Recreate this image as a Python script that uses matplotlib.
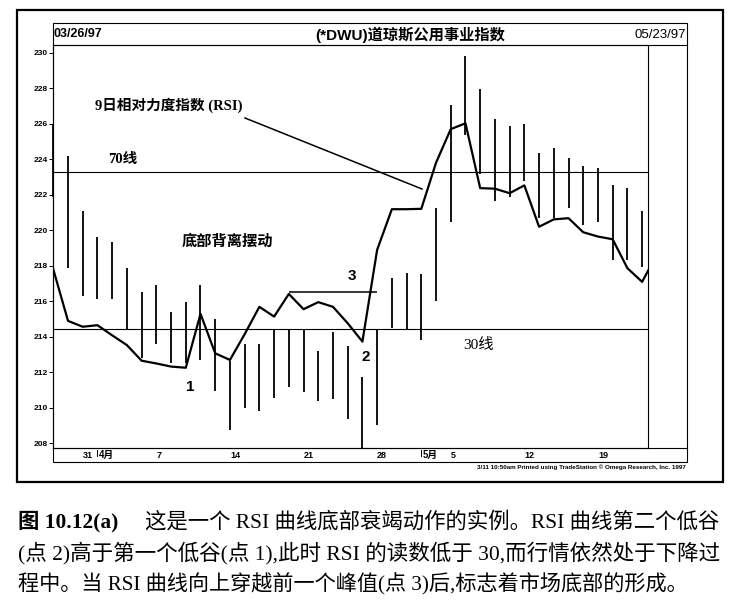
import matplotlib
matplotlib.use("Agg")
import matplotlib.pyplot as plt
import matplotlib.patches as patches

# Jours de cotation (03/26/97 - 05/23/97)
trade_days = ["3/26", "3/27", "3/31", "4/1", "4/2", "4/3", "4/4",
              "4/7", "4/8", "4/9", "4/10", "4/11",
              "4/14", "4/15", "4/16", "4/17", "4/18",
              "4/21", "4/22", "4/23", "4/24", "4/25",
              "4/28", "4/29", "4/30", "5/1", "5/2",
              "5/5", "5/6", "5/7", "5/8", "5/9",
              "5/12", "5/13", "5/14", "5/15", "5/16",
              "5/19", "5/20", "5/21", "5/22", "5/23"]

highs = [226.0, 224.2, 221.1, 219.6, 219.35, 217.85, 216.5,
         216.9, 215.4, 215.95, 216.9, 215.0,
         212.65, 213.6, 213.6, 214.4, 214.4,
         214.4, 213.2, 214.25, 213.5, 211.7,
         214.4, 217.3, 217.6, 217.55, 221.25,
         227.05, 229.85, 227.95, 226.3, 225.9,
         226.0, 224.35, 224.65, 224.05, 223.6,
         223.5, 222.55, 222.4, 221.1]
lows = [221.9, 217.9, 216.3, 216.1, 216.1, 214.45, 212.8,
        213.6, 212.5, 212.5, 212.7, 210.95,
        208.75, 209.95, 209.8, 210.55, 211.15,
        210.9, 210.35, 210.5, 209.35, 207.7,
        209.0, 214.5, 214.45, 213.8, 216.0,
        220.45, 225.4, 223.2, 221.65, 221.9,
        222.8, 220.7, 220.7, 221.25, 220.3,
        220.45, 218.35, 218.3, 217.95]

# RSI 9 jours
rsi = [45.2, 32.0, 30.5, 30.9, 28.3, 25.8, 21.8,
       21.1, 20.3, 20.0, 33.8, 23.7,
       22.0, 28.6, 35.6, 33.1, 38.9,
       35.0, 36.8, 35.6, 31.4, 26.7,
       50.2, 60.6, 60.6, 60.7, 72.5,
       81.1, 82.6, 66.0, 65.85, 64.7,
       66.7, 56.1, 58.0, 58.3, 54.7,
       53.6, 52.9, 45.5, 42.0, 49.0]

rsi_upper = 70
rsi_lower = 30
peak3_level = 39.5
peak3_span = ("4/18", "4/28")

price_ticks = list(range(208, 231, 2))
day_ticks = ["3/31", "4/7", "4/14", "4/21", "4/28", "5/5", "5/12", "5/19"]
day_labels = ["31", "7", "14", "21", "28", "5", "12", "19"]
month_ticks = ["4/1", "5/1"]
month_labels = ["4月", "5月"]

title = "(*DWU)道琼斯公用事业指数"
caption_head = "图 10.12(a)"
caption = ["这是一个 RSI 曲线底部衰竭动作的实例。RSI 曲线第二个低谷",
           "(点 2)高于第一个低谷(点 1),此时 RSI 的读数低于 30,而行情依然处于下降过",
           "程中。当 RSI 曲线向上穿越前一个峰值(点 3)后,标志着市场底部的形成。"]

W, H = 744, 603
SANS = ["Liberation Sans", "Noto Sans CJK SC"]
SERIF = ["Liberation Serif", "Noto Sans CJK SC"]

fig = plt.figure(figsize=(W / 100, H / 100), dpi=100)
fig.patch.set_facecolor("white")


def frac(x0, y0, x1, y1):
    return [x0 / W, 1 - y1 / H, (x1 - x0) / W, (y1 - y0) / H]


# Graphique principal (prix + RSI)
ax = fig.add_axes(frac(53, 45, 648, 448))
ax.set_xlim(-0.02, 40.4)
ax.set_ylim(207.72, 230.45)
for s in ax.spines.values():
    s.set_linewidth(0.8)
ax.yaxis.tick_right()
ax.set_yticks(price_ticks)
ax.set_yticklabels([str(t) for t in price_ticks], fontsize=6,
                   fontweight="bold", family="Liberation Sans")
ax.tick_params(axis="y", length=3, width=0.7, pad=0.5)
ax.set_xticks([])

x_idx = list(range(len(highs)))
ax.vlines(x_idx, lows, highs, color="black", linewidth=1.3, zorder=3,
          clip_on=False)

ax2 = ax.twinx()
ax2.set_ylim(-0.55, 102.65)
ax2.set_yticks([])
ax2.axhline(rsi_upper, color="black", linewidth=0.8)
ax2.axhline(rsi_lower, color="black", linewidth=0.8)
ax2.plot(range(len(rsi)), rsi, color="black", linewidth=1.6)
i0 = trade_days.index(peak3_span[0])
i1 = trade_days.index(peak3_span[1])
ax2.hlines(peak3_level, i0, i1, color="black", linewidth=1.1)
for s in ax2.spines.values():
    s.set_visible(False)

# Dates en bas
xt = ax.get_xaxis_transform()
for d, lab in zip(day_ticks, day_labels):
    ax.text(trade_days.index(d), -0.018, lab, transform=xt, ha="left",
            va="center", fontsize=6.5, fontweight="bold",
            family="Liberation Sans", clip_on=False)
for d, lab in zip(month_ticks, month_labels):
    i = trade_days.index(d)
    ax.plot([i, i], [-0.005, -0.02], transform=xt, color="black",
            linewidth=0.7, clip_on=False)
    ax.text(i + 0.12, -0.018, lab, transform=xt, ha="left", va="center",
            fontsize=7, fontweight="bold", family=SANS, clip_on=False)

# Cadres et textes en pixels
ov = fig.add_axes([0, 0, 1, 1])
ov.set_xlim(0, W)
ov.set_ylim(H, 0)
ov.axis("off")
ov.patch.set_visible(False)

ov.add_patch(patches.Rectangle((17, 10), 706, 472, fill=False,
                               edgecolor="black", linewidth=1.6))
ov.add_patch(patches.Rectangle((53, 23), 634, 439, fill=False,
                               edgecolor="black", linewidth=0.8))
ov.plot([53, 687], [45, 45], color="black", linewidth=0.8)
ov.plot([53, 687], [448, 448], color="black", linewidth=0.8)

ov.text(54, 34, "03/26/97", fontsize=9, fontweight="bold",
        family="Liberation Sans", ha="left", va="center")
ov.text(686, 35, "05/23/97", fontsize=9.5, family="Liberation Sans",
        ha="right", va="center")
ov.text(410, 35, title, fontsize=11, fontweight="bold", family=SANS,
        ha="center", va="center")

ov.text(95, 105, "9日相对力度指数 (RSI)", fontsize=10.5, fontweight="bold",
        family=SERIF, ha="left", va="center")
ov.plot([245, 422], [118, 189], color="black", linewidth=1.1)
ov.text(108, 160, "70线", fontsize=10.5, fontweight="bold", family=SERIF,
        ha="left", va="center")
ov.text(182, 242, "底部背离摆动", fontsize=11, fontweight="bold",
        family=SERIF, ha="left", va="center")
ov.text(463, 345, "30线", fontsize=11, family=SERIF, ha="left",
        va="center")
ov.text(352, 276, "3", fontsize=11, fontweight="bold",
        family="Liberation Sans", ha="center", va="center")
ov.text(190, 387, "1", fontsize=11, fontweight="bold",
        family="Liberation Sans", ha="center", va="center")
ov.text(366, 357, "2", fontsize=11, fontweight="bold",
        family="Liberation Sans", ha="center", va="center")

foot = ov.text(686, 467, "3/11 10:50am Printed using TradeStation "
               "© Omega Research, Inc. 1997", fontsize=4.3,
               fontweight="bold", family="Liberation Sans", ha="right",
               va="center")

# Légende sous la figure
head = ov.text(18, 522, caption_head, fontsize=15.5, fontweight="bold",
               family=SERIF, ha="left", va="center")
lines = [ov.text(145, 522, caption[0], fontsize=15.5, family=SERIF,
                 ha="left", va="center"),
         ov.text(18, 553, caption[1], fontsize=15.5, family=SERIF,
                 ha="left", va="center"),
         ov.text(18, 584, caption[2], fontsize=15.5, family=SERIF,
                 ha="left", va="center")]

renderer = fig.canvas.get_renderer()


def fit_width(t, target):
    w = t.get_window_extent(renderer).width
    t.set_fontsize(t.get_fontsize() * target / w)


fit_width(head, 100)
fit_width(lines[0], 574)
fit_width(lines[1], 703)
fit_width(lines[2], 671)
fit_width(foot, 210)

fig.savefig("out.png", dpi=100)
